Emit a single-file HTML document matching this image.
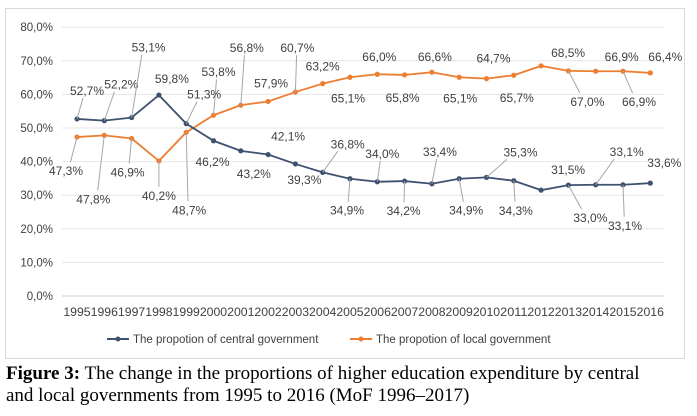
<!DOCTYPE html>
<html><head><meta charset="utf-8"><style>
body{margin:0;background:#fff;width:697px;height:416px;overflow:hidden;font-family:"Liberation Sans",sans-serif}
svg{position:absolute;left:0;top:0}
.cap{position:absolute;left:6px;top:363px;font-family:"Liberation Serif",serif;font-size:19px;line-height:22px;color:#000;white-space:nowrap}
</style></head><body>
<svg id="chart" width="697" height="362"></svg>
<div class="cap"><b>Figure 3:</b> The change in the proportions of higher education expenditure by central<br>and local governments from 1995 to 2016 (MoF 1996–2017)</div>
<script>
const years=["1995","1996","1997","1998","1999","2000","2001","2002","2003","2004","2005","2006","2007","2008","2009","2010","2011","2012","2013","2014","2015","2016"];
const central=[52.7,52.2,53.1,59.8,51.3,46.2,43.2,42.1,39.3,36.8,34.9,34.0,34.2,33.4,34.9,35.3,34.3,31.5,33.0,33.1,33.1,33.6];
const local=[47.3,47.8,46.9,40.2,48.7,53.8,56.8,57.9,60.7,63.2,65.1,66.0,65.8,66.6,65.1,64.7,65.7,68.5,67.0,66.9,66.9,66.4];
const yTicks=[0,10,20,30,40,50,60,70,80];
const cOff=[[10,-28],[17,-36],[17,-70],[13,-16],[18,-29],[-1,21],[13,23],[20,-18],[9,16],[25,-28],[-3,32],[5,-28],[-1,30],[8,-32],[7,32],[34,-25],[2,30],[27,-20],[22,33],[31,-33],[2,41],[14,-20]];
const lOff=[[-11,34],[-11,64],[-4,34],[0,35],[3,78],[5,-43],[6,-57],[3,-18],[2,-44],[0,-17],[-2,21],[2,-17],[-2,23],[3,-15],[1,21],[7,-20],[3,23],[27,-13],[19,31],[26,-14],[16,31],[15,-16]];
const NS="http://www.w3.org/2000/svg";
const svg=document.getElementById('chart');
function X(i){return 77+i*27.3;}
function Y(v){return 296-v*3.36;}
function mk(t,a,p){const e=document.createElementNS(NS,t);for(const k in a)e.setAttribute(k,a[k]);(p||svg).appendChild(e);return e;}
const frame=mk('rect',{x:5.5,y:8.5,width:679,height:350,fill:'#fff',stroke:'#d9d9d9'});


yTicks.forEach(v=>{
  const g=mk('line',{x1:62,x2:664,y1:Y(v),y2:Y(v),stroke:v===0?'#d0d0d0':'#e6e6e6','stroke-width':1});
  
  
  const t=mk('text',{x:53,y:Y(v)+4,'text-anchor':'end','font-size':11.5,fill:'#404040'});
  t.textContent=v.toFixed(1).replace('.',',')+'%';
  
  
});
years.forEach((y,i)=>{
  const t=mk('text',{x:X(i),y:316,'text-anchor':'middle','font-size':11.5,fill:'#404040',textLength:27.3,lengthAdjust:'spacingAndGlyphs'});
  t.textContent=y;
  
  
});
function series(vals,offs,color,name){
  const pts=vals.map((v,i)=>X(i)+','+Y(v)).join(' ');
  const pl=mk('polyline',{points:pts,fill:'none',stroke:color,'stroke-width':1.8});
  
  
  vals.forEach((v,i)=>{
    const c=mk('circle',{cx:X(i),cy:Y(v),r:2.6,fill:color});
    
    
    const [dx,dy]=offs[i];
    const lx=X(i)+dx, ly=Y(v)+dy;
    if(Math.abs(dy)>24){
      const ey=dy<0?ly+7:ly-9;
      const ln=mk('line',{x1:X(i),y1:Y(v),x2:X(i)+dx*0.6,y2:ey,stroke:'#a6a6a6','stroke-width':1});
      
      
    }
    const t=mk('text',{x:lx,y:ly+4,'text-anchor':'middle','font-size':12,fill:'#404040'});
    t.textContent=v.toFixed(1).replace('.',',')+'%';
    
    
  });
}
series(local,lOff,'#ed7d31','local');
series(central,cOff,'#3f5170','central');
[[107,133,'#3f5170','The propotion of central government','legend-central'],[350,376,'#ed7d31','The propotion of local government','legend-local']].forEach(l=>{
  const g=mk('g',{});
  
  
  mk('line',{x1:l[0],x2:l[0]+22,y1:339,y2:339,stroke:l[2],'stroke-width':2},g);
  mk('circle',{cx:l[0]+11,cy:339,r:2.5,fill:l[2]},g);
  const t=mk('text',{x:l[1],y:343,'font-size':11.5,fill:'#404040'},g);
  t.textContent=l[3];
});
</script>
</body></html>
